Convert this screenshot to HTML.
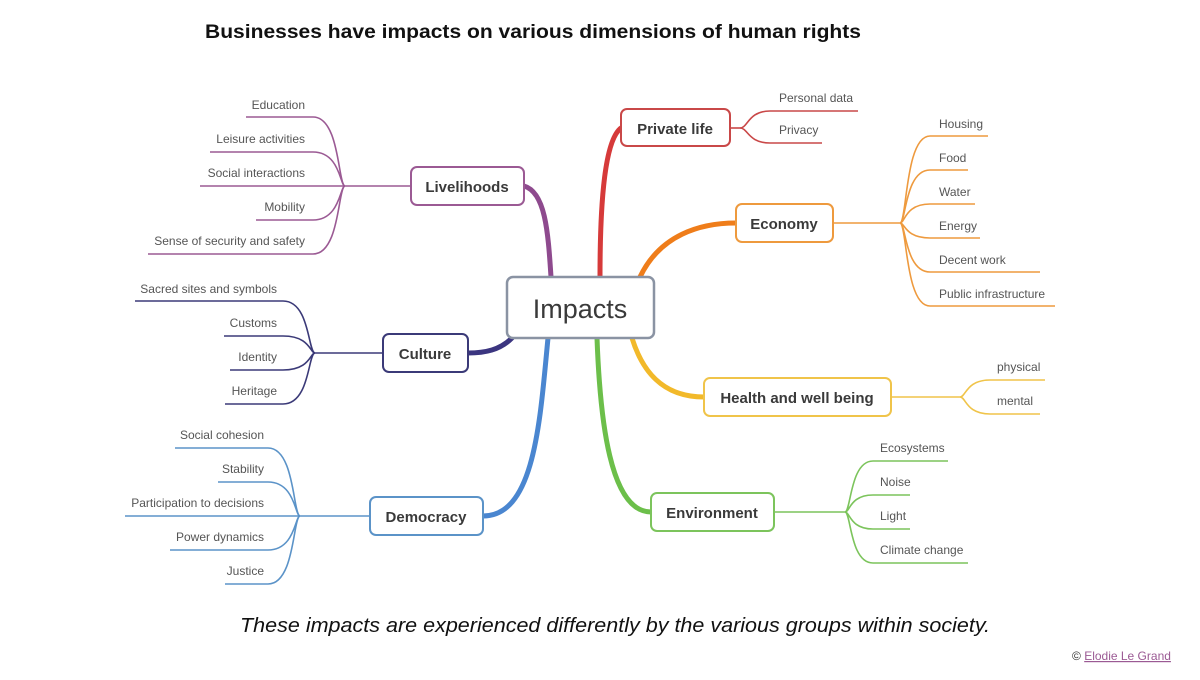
<!DOCTYPE html>
<html><head><meta charset="utf-8"><style>
body{margin:0;background:#fff;width:1200px;height:675px;overflow:hidden;font-family:"Liberation Sans",sans-serif}
</style></head><body>
<svg width="1200" height="675" viewBox="0 0 1200 675" xmlns="http://www.w3.org/2000/svg" font-family="Liberation Sans, DejaVu Sans, sans-serif">
<text x="205" y="38" font-size="19" font-weight="bold" fill="#111" textLength="656" lengthAdjust="spacingAndGlyphs">Businesses have impacts on various dimensions of human rights</text>

<g fill="none" stroke-width="5" stroke-linecap="round">
<path d="M551,277 C548,230 545,192 524,186" stroke="#8e4a8e"/>
<path d="M600,277 C600,200 605,140 621,128" stroke="#d63a3a"/>
<path d="M640,277 C660,235 700,223 736,223" stroke="#ef7d1a"/>
<path d="M512,338 C500,350 485,353 468,353" stroke="#3b3580"/>
<path d="M632,338 C645,380 670,397 704,397" stroke="#f2b92a"/>
<path d="M548,338 C540,420 535,516 483,516" stroke="#4a86d0"/>
<path d="M597,338 C600,420 610,512 651,512" stroke="#6cbf4a"/>
</g>

<g fill="none" stroke-width="1.6">
<g stroke="#9b5a94">
<path d="M411,186 L345,186"/>
<path d="M345,186 C338,186 340,117 313,117 L246,117"/>
<path d="M345,186 C340,186 340,152 313,152 L210,152"/>
<path d="M345,186 L200,186"/>
<path d="M345,186 C340,186 340,220 313,220 L256,220"/>
<path d="M345,186 C338,186 340,254 313,254 L148,254"/>
</g>
<g stroke="#3b3a78">
<path d="M383,353 L315,353"/>
<path d="M315,353 C308,353 310,301 283,301 L135,301"/>
<path d="M315,353 C310,353 310,336 283,336 L224,336"/>
<path d="M315,353 C310,353 310,370 283,370 L230,370"/>
<path d="M315,353 C308,353 310,404 283,404 L225,404"/>
</g>
<g stroke="#5b93c8">
<path d="M370,516 L300,516"/>
<path d="M300,516 C293,516 295,448 268,448 L175,448"/>
<path d="M300,516 C295,516 295,482 268,482 L218,482"/>
<path d="M300,516 L125,516"/>
<path d="M300,516 C295,516 295,550 268,550 L170,550"/>
<path d="M300,516 C293,516 295,584 268,584 L225,584"/>
</g>
<g stroke="#c94848">
<path d="M730,128 L740,128"/>
<path d="M740,128 C748,128 748,111 770,111 L858,111"/>
<path d="M740,128 C748,128 748,143 770,143 L822,143"/>
</g>
<g stroke="#ee9a3e">
<path d="M833,223 L900,223"/>
<path d="M900,223 C907,223 905,136 930,136 L988,136"/>
<path d="M900,223 C906,223 905,170 930,170 L968,170"/>
<path d="M900,223 C905,223 905,204 930,204 L975,204"/>
<path d="M900,223 C905,223 905,238 930,238 L980,238"/>
<path d="M900,223 C906,223 905,272 930,272 L1040,272"/>
<path d="M900,223 C907,223 905,306 930,306 L1055,306"/>
</g>
<g stroke="#f0c44a">
<path d="M891,397 L960,397"/>
<path d="M960,397 C966,397 966,380 990,380 L1045,380"/>
<path d="M960,397 C966,397 966,414 990,414 L1040,414"/>
</g>
<g stroke="#7cc45c">
<path d="M774,512 L845,512"/>
<path d="M845,512 C851,512 850,461 873,461 L948,461"/>
<path d="M845,512 C850,512 850,495 873,495 L910,495"/>
<path d="M845,512 C850,512 850,529 873,529 L910,529"/>
<path d="M845,512 C851,512 850,563 873,563 L968,563"/>
</g>
</g>

<g stroke-width="2" fill="#fff">
<rect x="507" y="277" width="147" height="61" rx="6" stroke="#8a93a3" stroke-width="2.5"/>
<rect x="411" y="167" width="113" height="38" rx="6" stroke="#9b5a94"/>
<rect x="621" y="109" width="109" height="37" rx="6" stroke="#c94848"/>
<rect x="736" y="204" width="97" height="38" rx="6" stroke="#ee9a3e"/>
<rect x="383" y="334" width="85" height="38" rx="6" stroke="#3b3a78"/>
<rect x="704" y="378" width="187" height="38" rx="6" stroke="#f0c44a"/>
<rect x="370" y="497" width="113" height="38" rx="6" stroke="#5b93c8"/>
<rect x="651" y="493" width="123" height="38" rx="6" stroke="#7cc45c"/>
</g>
<g fill="#3a3a3a" text-anchor="middle">
<text x="580" y="318" font-size="27">Impacts</text>
<text x="467" y="192" font-size="15" font-weight="bold">Livelihoods</text>
<text x="675" y="134" font-size="15" font-weight="bold">Private life</text>
<text x="784" y="229" font-size="15" font-weight="bold">Economy</text>
<text x="425" y="359" font-size="15" font-weight="bold">Culture</text>
<text x="797" y="403" font-size="15" font-weight="bold">Health and well being</text>
<text x="426" y="522" font-size="15" font-weight="bold">Democracy</text>
<text x="712" y="518" font-size="15" font-weight="bold">Environment</text>
</g>

<g fill="#555" font-size="12">
<g text-anchor="end">
<text x="305" y="109">Education</text>
<text x="305" y="143">Leisure activities</text>
<text x="305" y="177">Social interactions</text>
<text x="305" y="211">Mobility</text>
<text x="305" y="245">Sense of security and safety</text>
<text x="277" y="293">Sacred sites and symbols</text>
<text x="277" y="327">Customs</text>
<text x="277" y="361">Identity</text>
<text x="277" y="395">Heritage</text>
<text x="264" y="439">Social cohesion</text>
<text x="264" y="473">Stability</text>
<text x="264" y="507">Participation to decisions</text>
<text x="264" y="541">Power dynamics</text>
<text x="264" y="575">Justice</text>
</g>
<text x="779" y="102">Personal data</text>
<text x="779" y="134">Privacy</text>
<text x="939" y="128">Housing</text>
<text x="939" y="162">Food</text>
<text x="939" y="196">Water</text>
<text x="939" y="230">Energy</text>
<text x="939" y="264">Decent work</text>
<text x="939" y="298">Public infrastructure</text>
<text x="997" y="371">physical</text>
<text x="997" y="405">mental</text>
<text x="880" y="452">Ecosystems</text>
<text x="880" y="486">Noise</text>
<text x="880" y="520">Light</text>
<text x="880" y="554">Climate change</text>
</g>

<text x="240" y="632" font-size="20" font-style="italic" fill="#111" textLength="750" lengthAdjust="spacingAndGlyphs">These impacts are experienced differently by the various groups within society.</text>
<text x="1072" y="660" font-size="12" fill="#333">© <tspan fill="#9b5a94" text-decoration="underline">Elodie Le Grand</tspan></text>
</svg>
</body></html>
